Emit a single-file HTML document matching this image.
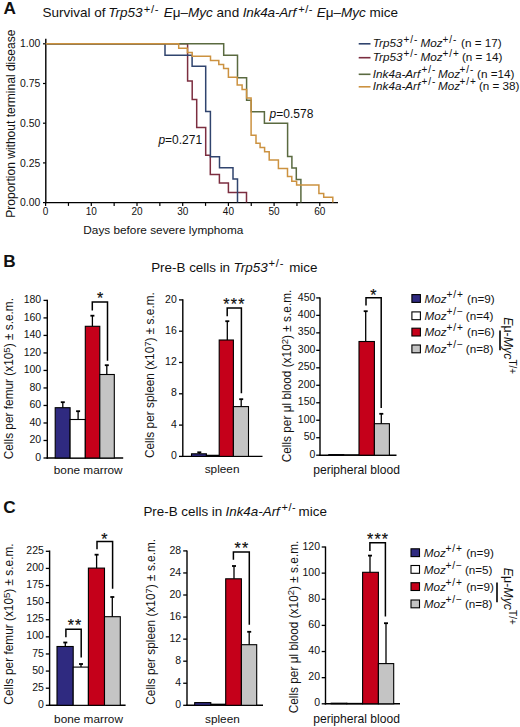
<!DOCTYPE html>
<html><head><meta charset="utf-8"><style>
html,body{margin:0;padding:0;background:#fff;}
body{width:520px;height:727px;overflow:hidden;}
svg{display:block;font-family:"Liberation Sans", sans-serif;fill:#111;}
</style></head><body>
<svg width="520" height="727" viewBox="0 0 520 727">
<g>
<text x="3.5" y="13.6" font-size="17.2" text-anchor="start" font-weight="bold">A</text>
<text y="17.3" font-size="13.5"><tspan x="42.6">Survival of </tspan><tspan x="108.3" font-style="italic">Trp53</tspan><tspan x="143.8" font-size="11.2" dy="-4.6" letter-spacing="0.7">+/-</tspan><tspan x="163.8" dy="4.6" font-style="italic">E</tspan><tspan>μ–</tspan><tspan font-style="italic">Myc</tspan><tspan> and </tspan><tspan x="242.8" font-style="italic" letter-spacing="-0.18">Ink4a-Arf</tspan><tspan x="298.2" font-size="11.2" dy="-4.6" letter-spacing="0.5">+/-</tspan><tspan x="316.7" dy="4.6" font-style="italic">E</tspan><tspan>μ–</tspan><tspan font-style="italic">Myc</tspan><tspan> mice</tspan></text>
<line x1="45.8" y1="38.8" x2="45.8" y2="203.29999999999998" stroke="#000" stroke-width="1.4"/>
<line x1="45.099999999999994" y1="202.6" x2="338" y2="202.6" stroke="#000" stroke-width="1.4"/>
<line x1="43.0" y1="43.79999999999998" x2="45.8" y2="43.79999999999998" stroke="#000" stroke-width="1.2"/>
<text x="40.3" y="47.399999999999984" font-size="10.4" text-anchor="end" >1.00</text>
<line x1="43.0" y1="83.49999999999999" x2="45.8" y2="83.49999999999999" stroke="#000" stroke-width="1.2"/>
<text x="40.3" y="87.09999999999998" font-size="10.4" text-anchor="end" >0.75</text>
<line x1="43.0" y1="123.19999999999999" x2="45.8" y2="123.19999999999999" stroke="#000" stroke-width="1.2"/>
<text x="40.3" y="126.79999999999998" font-size="10.4" text-anchor="end" >0.50</text>
<line x1="43.0" y1="162.89999999999998" x2="45.8" y2="162.89999999999998" stroke="#000" stroke-width="1.2"/>
<text x="40.3" y="166.49999999999997" font-size="10.4" text-anchor="end" >0.25</text>
<line x1="43.0" y1="202.6" x2="45.8" y2="202.6" stroke="#000" stroke-width="1.2"/>
<text x="40.3" y="206.2" font-size="10.4" text-anchor="end" >0.00</text>
<line x1="45.6" y1="202.6" x2="45.6" y2="205.9" stroke="#000" stroke-width="1.2"/>
<text x="45.6" y="215.3" font-size="10" text-anchor="middle" >0</text>
<line x1="68.45" y1="202.6" x2="68.45" y2="205.9" stroke="#000" stroke-width="1.2"/>
<line x1="91.30000000000001" y1="202.6" x2="91.30000000000001" y2="205.9" stroke="#000" stroke-width="1.2"/>
<text x="91.30000000000001" y="215.3" font-size="10" text-anchor="middle" >10</text>
<line x1="114.15" y1="202.6" x2="114.15" y2="205.9" stroke="#000" stroke-width="1.2"/>
<line x1="137.0" y1="202.6" x2="137.0" y2="205.9" stroke="#000" stroke-width="1.2"/>
<text x="137.0" y="215.3" font-size="10" text-anchor="middle" >20</text>
<line x1="159.85" y1="202.6" x2="159.85" y2="205.9" stroke="#000" stroke-width="1.2"/>
<line x1="182.70000000000002" y1="202.6" x2="182.70000000000002" y2="205.9" stroke="#000" stroke-width="1.2"/>
<text x="182.70000000000002" y="215.3" font-size="10" text-anchor="middle" >30</text>
<line x1="205.55" y1="202.6" x2="205.55" y2="205.9" stroke="#000" stroke-width="1.2"/>
<line x1="228.4" y1="202.6" x2="228.4" y2="205.9" stroke="#000" stroke-width="1.2"/>
<text x="228.4" y="215.3" font-size="10" text-anchor="middle" >40</text>
<line x1="251.25" y1="202.6" x2="251.25" y2="205.9" stroke="#000" stroke-width="1.2"/>
<line x1="274.1" y1="202.6" x2="274.1" y2="205.9" stroke="#000" stroke-width="1.2"/>
<text x="274.1" y="215.3" font-size="10" text-anchor="middle" >50</text>
<line x1="296.95000000000005" y1="202.6" x2="296.95000000000005" y2="205.9" stroke="#000" stroke-width="1.2"/>
<line x1="319.80000000000007" y1="202.6" x2="319.80000000000007" y2="205.9" stroke="#000" stroke-width="1.2"/>
<text x="319.80000000000007" y="215.3" font-size="10" text-anchor="middle" >60</text>
<text x="83.3" y="233.5" font-size="11.8" text-anchor="start" >Days before severe lymphoma</text>
<text transform="translate(14.7,123.65) rotate(-90)" font-size="12.05" text-anchor="middle">Proportion without terminal disease</text>
<path d="M 45.8 43.8 H 187.6 V 81.1 H 192.2 V 99.4 H 196.7 V 127.5 H 205.7 V 155.2 H 210.3 V 174.4 H 219.4 V 183.1 H 228.4 V 192.5 H 246.5 V 202.6" fill="none" stroke="#7c2e40" stroke-width="1.5" stroke-linejoin="miter" stroke-linecap="butt"/>
<path d="M 45.8 43.8 H 165 V 55.3 H 192.1 V 66.2 H 205.7 V 111.5 H 210.4 V 156.8 H 219.5 V 167.8 H 233 V 179 H 237.5 V 202.6" fill="none" stroke="#30446e" stroke-width="1.5" stroke-linejoin="miter" stroke-linecap="butt"/>
<path d="M 45.8 43.8 H 223.7 V 55.2 H 237.5 V 77.8 H 246.6 V 100.3 H 251.2 V 111.7 H 264.4 V 123.2 H 287.6 V 156.6 H 291.9 V 168 H 296.3 V 179.5 H 300.9 V 202.6" fill="none" stroke="#5a6a40" stroke-width="1.5" stroke-linejoin="miter" stroke-linecap="butt"/>
<path d="M 45.8 43.8 H 178.7 V 48.2 H 187.4 V 52.4 H 192.2 V 56.2 H 210.5 V 60.5 H 218.8 V 64.5 H 223.6 V 68.5 H 228.4 V 77.3 H 237.2 V 85.1 H 242.1 V 89.6 H 246.6 V 98.1 H 251.1 V 135.2 H 256 V 143.2 H 260.1 V 147.5 H 264.6 V 151.8 H 269.2 V 160.1 H 278.4 V 168.4 H 287.5 V 176.6 H 291.8 V 181.2 H 296.6 V 185.1 H 318.9 V 193.4 H 323.7 V 197.3 H 332.8 V 202.6" fill="none" stroke="#cc9240" stroke-width="1.5" stroke-linejoin="miter" stroke-linecap="butt"/>
<text x="158.4" y="143.5" font-size="12" text-anchor="start" ><tspan font-style="italic">p</tspan>=0.271</text>
<text x="269.6" y="117.6" font-size="12" text-anchor="start" ><tspan font-style="italic">p</tspan>=0.578</text>
<line x1="358.7" y1="43.8" x2="370.5" y2="43.8" stroke="#30446e" stroke-width="1.6"/>
<text y="47.4" font-size="11.7"><tspan x="372.8" font-style="italic">Trp53</tspan><tspan x="403.5" font-size="10" dy="-4.5" letter-spacing="1">+/-</tspan><tspan x="420.5" dy="4.5" font-style="italic">Moz</tspan><tspan x="442.5" font-size="10" dy="-4.5" letter-spacing="1">+/-</tspan><tspan x="461.1" dy="4.5">(n = 17)</tspan></text>
<line x1="358.7" y1="57.7" x2="370.5" y2="57.7" stroke="#7c2e40" stroke-width="1.6"/>
<text y="61.2" font-size="11.7"><tspan x="372.8" font-style="italic">Trp53</tspan><tspan x="403.5" font-size="10" dy="-4.5" letter-spacing="1">+/-</tspan><tspan x="420.5" dy="4.5" font-style="italic">Moz</tspan><tspan x="442.5" font-size="10" dy="-4.5" letter-spacing="1">+/+</tspan><tspan x="461.9" dy="4.5">(n = 14)</tspan></text>
<line x1="358.7" y1="74.3" x2="370.5" y2="74.3" stroke="#5a6a40" stroke-width="1.6"/>
<text y="77.8" font-size="11.7"><tspan x="372.8" font-style="italic">Ink4a-Arf</tspan><tspan x="421.5" font-size="10" dy="-4.5" letter-spacing="1">+/-</tspan><tspan x="438.0" dy="4.5" font-style="italic">Moz</tspan><tspan x="459.5" font-size="10" dy="-4.5" letter-spacing="1">+/-</tspan><tspan x="477.1" dy="4.5">(n =14)</tspan></text>
<line x1="358.7" y1="86.8" x2="370.5" y2="86.8" stroke="#cc9240" stroke-width="1.6"/>
<text y="89.9" font-size="11.7"><tspan x="372.8" font-style="italic">Ink4a-Arf</tspan><tspan x="421.5" font-size="10" dy="-4.5" letter-spacing="1">+/-</tspan><tspan x="438.0" dy="4.5" font-style="italic">Moz</tspan><tspan x="459.5" font-size="10" dy="-4.5" letter-spacing="1">+/+</tspan><tspan x="478.9" dy="4.5">(n = 38)</tspan></text>
</g>
<text x="3.2" y="266.6" font-size="17.2" text-anchor="start" font-weight="bold">B</text>
<text y="271.6" font-size="13.4"><tspan x="151.2">Pre-B cells in </tspan><tspan x="233.6" font-style="italic">Trp53</tspan><tspan x="268.6" font-size="11.2" dy="-4.6" letter-spacing="0.7">+/-</tspan><tspan x="289.2" dy="4.6">mice</tspan></text>
<line x1="47.3" y1="299.8" x2="47.3" y2="458.7" stroke="#000" stroke-width="1.4"/>
<line x1="46.599999999999994" y1="458.0" x2="123.2" y2="458.0" stroke="#000" stroke-width="1.4"/>
<line x1="43.5" y1="458.0" x2="47.3" y2="458.0" stroke="#000" stroke-width="1.3"/>
<text x="41.2" y="460.6" font-size="10.5" text-anchor="end" >0</text>
<line x1="43.5" y1="440.4888888888889" x2="47.3" y2="440.4888888888889" stroke="#000" stroke-width="1.3"/>
<text x="41.2" y="443.0888888888889" font-size="10.5" text-anchor="end" >20</text>
<line x1="43.5" y1="422.97777777777776" x2="47.3" y2="422.97777777777776" stroke="#000" stroke-width="1.3"/>
<text x="41.2" y="425.5777777777778" font-size="10.5" text-anchor="end" >40</text>
<line x1="43.5" y1="405.46666666666664" x2="47.3" y2="405.46666666666664" stroke="#000" stroke-width="1.3"/>
<text x="41.2" y="408.06666666666666" font-size="10.5" text-anchor="end" >60</text>
<line x1="43.5" y1="387.9555555555555" x2="47.3" y2="387.9555555555555" stroke="#000" stroke-width="1.3"/>
<text x="41.2" y="390.55555555555554" font-size="10.5" text-anchor="end" >80</text>
<line x1="43.5" y1="370.44444444444446" x2="47.3" y2="370.44444444444446" stroke="#000" stroke-width="1.3"/>
<text x="41.2" y="373.0444444444445" font-size="10.5" text-anchor="end" >100</text>
<line x1="43.5" y1="352.93333333333334" x2="47.3" y2="352.93333333333334" stroke="#000" stroke-width="1.3"/>
<text x="41.2" y="355.53333333333336" font-size="10.5" text-anchor="end" >120</text>
<line x1="43.5" y1="335.4222222222222" x2="47.3" y2="335.4222222222222" stroke="#000" stroke-width="1.3"/>
<text x="41.2" y="338.02222222222224" font-size="10.5" text-anchor="end" >140</text>
<line x1="43.5" y1="317.9111111111111" x2="47.3" y2="317.9111111111111" stroke="#000" stroke-width="1.3"/>
<text x="41.2" y="320.5111111111111" font-size="10.5" text-anchor="end" >160</text>
<line x1="43.5" y1="300.4" x2="47.3" y2="300.4" stroke="#000" stroke-width="1.3"/>
<text x="41.2" y="303.0" font-size="10.5" text-anchor="end" >180</text>
<rect x="55.2" y="407.7" width="14.90" height="50.30" fill="#2f2a80" stroke="#000" stroke-width="1.1"/>
<rect x="70.1" y="419.5" width="15.20" height="38.50" fill="#fff" stroke="#000" stroke-width="1.1"/>
<rect x="85.3" y="326.3" width="14.50" height="131.70" fill="#c5001a" stroke="#000" stroke-width="1.1"/>
<rect x="99.8" y="374.5" width="14.50" height="83.50" fill="#c4c4c4" stroke="#000" stroke-width="1.1"/>
<line x1="62.8" y1="402.2" x2="62.8" y2="407.7" stroke="#000" stroke-width="1.3"/>
<line x1="60.8" y1="402.2" x2="64.8" y2="402.2" stroke="#000" stroke-width="1.8"/>
<line x1="78.1" y1="411.2" x2="78.1" y2="419.5" stroke="#000" stroke-width="1.3"/>
<line x1="76.1" y1="411.2" x2="80.1" y2="411.2" stroke="#000" stroke-width="1.8"/>
<line x1="92.4" y1="315.7" x2="92.4" y2="326.3" stroke="#000" stroke-width="1.3"/>
<line x1="90.4" y1="315.7" x2="94.4" y2="315.7" stroke="#000" stroke-width="1.8"/>
<line x1="106.8" y1="365.2" x2="106.8" y2="374.5" stroke="#000" stroke-width="1.3"/>
<line x1="104.8" y1="365.2" x2="108.8" y2="365.2" stroke="#000" stroke-width="1.8"/>
<text x="53.8" y="473.6" font-size="11.8" text-anchor="start" >bone marrow</text>
<text transform="translate(13.3,378.65) rotate(-90)" font-size="11.85" text-anchor="middle">Cells per femur (x10<tspan font-size="9.6" dy="-3.6">5</tspan><tspan dy="3.6">) ± s.e.m.</tspan></text>
<path d="M 92.3 310.5 V 302.0 H 107.5 V 360.8" fill="none" stroke="#000" stroke-width="1.5"/>
<text x="100.0" y="304.30" font-size="16" text-anchor="middle" letter-spacing="0" stroke="#000" stroke-width="0.2">*</text>
<line x1="182.8" y1="299.3" x2="182.8" y2="457.09999999999997" stroke="#000" stroke-width="1.4"/>
<line x1="182.10000000000002" y1="456.4" x2="262.5" y2="456.4" stroke="#000" stroke-width="1.4"/>
<line x1="179.0" y1="456.4" x2="182.8" y2="456.4" stroke="#000" stroke-width="1.3"/>
<text x="176.79999999999998" y="459.0" font-size="10.5" text-anchor="end" >0</text>
<line x1="179.0" y1="425.09999999999997" x2="182.8" y2="425.09999999999997" stroke="#000" stroke-width="1.3"/>
<text x="176.79999999999998" y="427.7" font-size="10.5" text-anchor="end" >4</text>
<line x1="179.0" y1="393.79999999999995" x2="182.8" y2="393.79999999999995" stroke="#000" stroke-width="1.3"/>
<text x="176.79999999999998" y="396.4" font-size="10.5" text-anchor="end" >8</text>
<line x1="179.0" y1="362.5" x2="182.8" y2="362.5" stroke="#000" stroke-width="1.3"/>
<text x="176.79999999999998" y="365.1" font-size="10.5" text-anchor="end" >12</text>
<line x1="179.0" y1="331.2" x2="182.8" y2="331.2" stroke="#000" stroke-width="1.3"/>
<text x="176.79999999999998" y="333.8" font-size="10.5" text-anchor="end" >16</text>
<line x1="179.0" y1="299.9" x2="182.8" y2="299.9" stroke="#000" stroke-width="1.3"/>
<text x="176.79999999999998" y="302.5" font-size="10.5" text-anchor="end" >20</text>
<rect x="191.5" y="453.8" width="14.90" height="2.60" fill="#2f2a80" stroke="#000" stroke-width="1.1"/>
<rect x="206.4" y="455.3" width="12.80" height="1.10" fill="#fff" stroke="#000" stroke-width="1.1"/>
<rect x="219.2" y="340.0" width="14.20" height="116.40" fill="#c5001a" stroke="#000" stroke-width="1.1"/>
<rect x="233.4" y="406.6" width="15.10" height="49.80" fill="#c4c4c4" stroke="#000" stroke-width="1.1"/>
<line x1="199.3" y1="452.3" x2="199.3" y2="453.8" stroke="#000" stroke-width="1.3"/>
<line x1="197.3" y1="452.3" x2="201.3" y2="452.3" stroke="#000" stroke-width="1.8"/>
<line x1="227.3" y1="321.2" x2="227.3" y2="340.0" stroke="#000" stroke-width="1.3"/>
<line x1="225.3" y1="321.2" x2="229.3" y2="321.2" stroke="#000" stroke-width="1.8"/>
<line x1="241.2" y1="399.2" x2="241.2" y2="406.6" stroke="#000" stroke-width="1.3"/>
<line x1="239.2" y1="399.2" x2="243.2" y2="399.2" stroke="#000" stroke-width="1.8"/>
<text x="204.70000000000002" y="473.2" font-size="11.8" text-anchor="start" >spleen</text>
<text transform="translate(154.4,375.1) rotate(-90)" font-size="11.85" text-anchor="middle">Cells per spleen (x10<tspan font-size="9.6" dy="-3.6">7</tspan><tspan dy="3.6">) ± s.e.m.</tspan></text>
<path d="M 227.2 316.2 V 308.1 H 241.4 V 393.3" fill="none" stroke="#000" stroke-width="1.5"/>
<text x="234.5" y="309.90" font-size="16" text-anchor="middle" letter-spacing="1.2" stroke="#000" stroke-width="0.2">***</text>
<line x1="320.0" y1="297.4" x2="320.0" y2="455.9" stroke="#000" stroke-width="1.4"/>
<line x1="319.3" y1="455.2" x2="396.5" y2="455.2" stroke="#000" stroke-width="1.4"/>
<line x1="316.2" y1="455.2" x2="320.0" y2="455.2" stroke="#000" stroke-width="1.3"/>
<text x="315.40000000000003" y="457.8" font-size="10.5" text-anchor="end" >0</text>
<line x1="316.2" y1="437.72222222222223" x2="320.0" y2="437.72222222222223" stroke="#000" stroke-width="1.3"/>
<text x="315.40000000000003" y="440.32222222222225" font-size="10.5" text-anchor="end" >50</text>
<line x1="316.2" y1="420.2444444444444" x2="320.0" y2="420.2444444444444" stroke="#000" stroke-width="1.3"/>
<text x="315.40000000000003" y="422.84444444444443" font-size="10.5" text-anchor="end" >100</text>
<line x1="316.2" y1="402.76666666666665" x2="320.0" y2="402.76666666666665" stroke="#000" stroke-width="1.3"/>
<text x="315.40000000000003" y="405.3666666666667" font-size="10.5" text-anchor="end" >150</text>
<line x1="316.2" y1="385.2888888888889" x2="320.0" y2="385.2888888888889" stroke="#000" stroke-width="1.3"/>
<text x="315.40000000000003" y="387.8888888888889" font-size="10.5" text-anchor="end" >200</text>
<line x1="316.2" y1="367.81111111111113" x2="320.0" y2="367.81111111111113" stroke="#000" stroke-width="1.3"/>
<text x="315.40000000000003" y="370.41111111111115" font-size="10.5" text-anchor="end" >250</text>
<line x1="316.2" y1="350.3333333333333" x2="320.0" y2="350.3333333333333" stroke="#000" stroke-width="1.3"/>
<text x="315.40000000000003" y="352.93333333333334" font-size="10.5" text-anchor="end" >300</text>
<line x1="316.2" y1="332.8555555555555" x2="320.0" y2="332.8555555555555" stroke="#000" stroke-width="1.3"/>
<text x="315.40000000000003" y="335.4555555555555" font-size="10.5" text-anchor="end" >350</text>
<line x1="316.2" y1="315.37777777777774" x2="320.0" y2="315.37777777777774" stroke="#000" stroke-width="1.3"/>
<text x="315.40000000000003" y="317.97777777777776" font-size="10.5" text-anchor="end" >400</text>
<line x1="316.2" y1="297.9" x2="320.0" y2="297.9" stroke="#000" stroke-width="1.3"/>
<text x="315.40000000000003" y="300.5" font-size="10.5" text-anchor="end" >450</text>
<rect x="328.8" y="454.6" width="15.00" height="0.60" fill="#2f2a80" stroke="#000" stroke-width="1.1"/>
<rect x="343.8" y="454.9" width="15.20" height="0.30" fill="#fff" stroke="#000" stroke-width="1.1"/>
<rect x="359.0" y="341.5" width="15.40" height="113.70" fill="#c5001a" stroke="#000" stroke-width="1.1"/>
<rect x="374.4" y="423.7" width="15.00" height="31.50" fill="#c4c4c4" stroke="#000" stroke-width="1.1"/>
<line x1="365.7" y1="311.2" x2="365.7" y2="341.5" stroke="#000" stroke-width="1.3"/>
<line x1="363.7" y1="311.2" x2="367.7" y2="311.2" stroke="#000" stroke-width="1.8"/>
<line x1="381.3" y1="413.8" x2="381.3" y2="423.7" stroke="#000" stroke-width="1.3"/>
<line x1="379.3" y1="413.8" x2="383.3" y2="413.8" stroke="#000" stroke-width="1.8"/>
<text x="313.2" y="473.6" font-size="12.1" text-anchor="start" >peripheral blood</text>
<text transform="translate(291.3,376.0) rotate(-90)" font-size="11.85" text-anchor="middle">Cells per μl blood (x10<tspan font-size="9.6" dy="-3.6">2</tspan><tspan dy="3.6">) ± s.e.m.</tspan></text>
<path d="M 366.0 305.6 V 297.8 H 381.2 V 408.0" fill="none" stroke="#000" stroke-width="1.5"/>
<text x="373.4" y="301.20" font-size="16" text-anchor="middle" letter-spacing="0" stroke="#000" stroke-width="0.2">*</text>
<rect x="411.90" y="294.60" width="8.5" height="7.8" fill="#2f2a80" stroke="#000" stroke-width="1.1"/>
<text y="302.60" font-size="11.7"><tspan x="424.60" font-style="italic">Moz</tspan><tspan x="446.50" font-size="10.2" dy="-5" letter-spacing="0.8">+/+</tspan><tspan x="467.10" dy="5">(n=9)</tspan></text>
<rect x="411.90" y="311.90" width="8.5" height="7.8" fill="#fff" stroke="#000" stroke-width="1.1"/>
<text y="319.90" font-size="11.7"><tspan x="424.60" font-style="italic">Moz</tspan><tspan x="446.50" font-size="10.2" dy="-5" letter-spacing="0.8">+/−</tspan><tspan x="465.80" dy="5">(n=4)</tspan></text>
<rect x="411.90" y="328.20" width="8.5" height="7.8" fill="#c5001a" stroke="#000" stroke-width="1.1"/>
<text y="336.20" font-size="11.7"><tspan x="424.60" font-style="italic">Moz</tspan><tspan x="446.50" font-size="10.2" dy="-5" letter-spacing="0.8">+/+</tspan><tspan x="467.10" dy="5">(n=6)</tspan></text>
<rect x="411.90" y="345.00" width="8.5" height="7.8" fill="#c4c4c4" stroke="#000" stroke-width="1.1"/>
<text y="353.00" font-size="11.7"><tspan x="424.60" font-style="italic">Moz</tspan><tspan x="446.50" font-size="10.2" dy="-5" letter-spacing="0.8">+/−</tspan><tspan x="465.80" dy="5">(n=8)</tspan></text>
<line x1="500.0" y1="330.6" x2="500.0" y2="350.2" stroke="#000" stroke-width="1.6"/>
<text transform="translate(503.6,317.2) rotate(90)" font-size="12.4"><tspan font-style="italic">E</tspan>μ-<tspan font-style="italic">Myc</tspan><tspan font-size="10" dy="-5" dx="0">T/+</tspan></text>
<text x="3.3" y="512.5" font-size="17.2" text-anchor="start" font-weight="bold">C</text>
<text y="515.8" font-size="13.4"><tspan x="143.4">Pre-B cells in </tspan><tspan x="225.5" font-style="italic">Ink4a-Arf</tspan><tspan x="281.6" font-size="11" dy="-4.6" letter-spacing="0.5">+/-</tspan><tspan x="298.6" dy="4.6">mice</tspan></text>
<line x1="49.6" y1="550.5" x2="49.6" y2="706.0" stroke="#000" stroke-width="1.4"/>
<line x1="48.9" y1="705.3" x2="125.6" y2="705.3" stroke="#000" stroke-width="1.4"/>
<line x1="45.800000000000004" y1="705.3" x2="49.6" y2="705.3" stroke="#000" stroke-width="1.3"/>
<text x="43.9" y="707.9" font-size="10.5" text-anchor="end" >0</text>
<line x1="45.800000000000004" y1="688.1888888888889" x2="49.6" y2="688.1888888888889" stroke="#000" stroke-width="1.3"/>
<text x="43.9" y="690.7888888888889" font-size="10.5" text-anchor="end" >25</text>
<line x1="45.800000000000004" y1="671.0777777777778" x2="49.6" y2="671.0777777777778" stroke="#000" stroke-width="1.3"/>
<text x="43.9" y="673.6777777777778" font-size="10.5" text-anchor="end" >50</text>
<line x1="45.800000000000004" y1="653.9666666666666" x2="49.6" y2="653.9666666666666" stroke="#000" stroke-width="1.3"/>
<text x="43.9" y="656.5666666666666" font-size="10.5" text-anchor="end" >75</text>
<line x1="45.800000000000004" y1="636.8555555555555" x2="49.6" y2="636.8555555555555" stroke="#000" stroke-width="1.3"/>
<text x="43.9" y="639.4555555555555" font-size="10.5" text-anchor="end" >100</text>
<line x1="45.800000000000004" y1="619.7444444444444" x2="49.6" y2="619.7444444444444" stroke="#000" stroke-width="1.3"/>
<text x="43.9" y="622.3444444444444" font-size="10.5" text-anchor="end" >125</text>
<line x1="45.800000000000004" y1="602.6333333333333" x2="49.6" y2="602.6333333333333" stroke="#000" stroke-width="1.3"/>
<text x="43.9" y="605.2333333333333" font-size="10.5" text-anchor="end" >150</text>
<line x1="45.800000000000004" y1="585.5222222222221" x2="49.6" y2="585.5222222222221" stroke="#000" stroke-width="1.3"/>
<text x="43.9" y="588.1222222222221" font-size="10.5" text-anchor="end" >175</text>
<line x1="45.800000000000004" y1="568.411111111111" x2="49.6" y2="568.411111111111" stroke="#000" stroke-width="1.3"/>
<text x="43.9" y="571.0111111111111" font-size="10.5" text-anchor="end" >200</text>
<line x1="45.800000000000004" y1="551.3" x2="49.6" y2="551.3" stroke="#000" stroke-width="1.3"/>
<text x="43.9" y="553.9" font-size="10.5" text-anchor="end" >225</text>
<rect x="57.0" y="646.5" width="16.20" height="58.80" fill="#2f2a80" stroke="#000" stroke-width="1.1"/>
<rect x="73.2" y="667.1" width="15.20" height="38.20" fill="#fff" stroke="#000" stroke-width="1.1"/>
<rect x="88.4" y="568.1" width="16.10" height="137.20" fill="#c5001a" stroke="#000" stroke-width="1.1"/>
<rect x="104.5" y="616.7" width="15.80" height="88.60" fill="#c4c4c4" stroke="#000" stroke-width="1.1"/>
<line x1="65.3" y1="642.5" x2="65.3" y2="646.5" stroke="#000" stroke-width="1.3"/>
<line x1="63.3" y1="642.5" x2="67.3" y2="642.5" stroke="#000" stroke-width="1.8"/>
<line x1="81.0" y1="664.0" x2="81.0" y2="667.1" stroke="#000" stroke-width="1.3"/>
<line x1="79.0" y1="664.0" x2="83.0" y2="664.0" stroke="#000" stroke-width="1.8"/>
<line x1="96.6" y1="554.7" x2="96.6" y2="568.1" stroke="#000" stroke-width="1.3"/>
<line x1="94.6" y1="554.7" x2="98.6" y2="554.7" stroke="#000" stroke-width="1.8"/>
<line x1="112.3" y1="597.0" x2="112.3" y2="616.7" stroke="#000" stroke-width="1.3"/>
<line x1="110.3" y1="597.0" x2="114.3" y2="597.0" stroke="#000" stroke-width="1.8"/>
<text x="54.1" y="723.3" font-size="11.8" text-anchor="start" >bone marrow</text>
<text transform="translate(13.1,624.0) rotate(-90)" font-size="11.85" text-anchor="middle">Cells per femur (x10<tspan font-size="9.6" dy="-3.6">5</tspan><tspan dy="3.6">) ± s.e.m.</tspan></text>
<path d="M 97.0 549.3 V 541.4 H 112.6 V 588.8" fill="none" stroke="#000" stroke-width="1.5"/>
<text x="104.25" y="545.00" font-size="16" text-anchor="middle" letter-spacing="0" stroke="#000" stroke-width="0.2">*</text>
<path d="M 65.9 637.2 V 629.2 H 81.2 V 657.6" fill="none" stroke="#000" stroke-width="1.5"/>
<text x="75.1" y="630.80" font-size="16" text-anchor="middle" letter-spacing="1.2" stroke="#000" stroke-width="0.2">**</text>
<line x1="187.0" y1="550.4" x2="187.0" y2="706.0" stroke="#000" stroke-width="1.4"/>
<line x1="186.3" y1="705.3" x2="263.0" y2="705.3" stroke="#000" stroke-width="1.4"/>
<line x1="183.2" y1="705.3" x2="187.0" y2="705.3" stroke="#000" stroke-width="1.3"/>
<text x="181.2" y="707.9" font-size="10.5" text-anchor="end" >0</text>
<line x1="183.2" y1="683.2428571428571" x2="187.0" y2="683.2428571428571" stroke="#000" stroke-width="1.3"/>
<text x="181.2" y="685.8428571428572" font-size="10.5" text-anchor="end" >4</text>
<line x1="183.2" y1="661.1857142857142" x2="187.0" y2="661.1857142857142" stroke="#000" stroke-width="1.3"/>
<text x="181.2" y="663.7857142857142" font-size="10.5" text-anchor="end" >8</text>
<line x1="183.2" y1="639.1285714285714" x2="187.0" y2="639.1285714285714" stroke="#000" stroke-width="1.3"/>
<text x="181.2" y="641.7285714285714" font-size="10.5" text-anchor="end" >12</text>
<line x1="183.2" y1="617.0714285714286" x2="187.0" y2="617.0714285714286" stroke="#000" stroke-width="1.3"/>
<text x="181.2" y="619.6714285714286" font-size="10.5" text-anchor="end" >16</text>
<line x1="183.2" y1="595.0142857142857" x2="187.0" y2="595.0142857142857" stroke="#000" stroke-width="1.3"/>
<text x="181.2" y="597.6142857142858" font-size="10.5" text-anchor="end" >20</text>
<line x1="183.2" y1="572.9571428571428" x2="187.0" y2="572.9571428571428" stroke="#000" stroke-width="1.3"/>
<text x="181.2" y="575.5571428571428" font-size="10.5" text-anchor="end" >24</text>
<line x1="183.2" y1="550.9" x2="187.0" y2="550.9" stroke="#000" stroke-width="1.3"/>
<text x="181.2" y="553.5" font-size="10.5" text-anchor="end" >28</text>
<rect x="194.7" y="702.6" width="16.10" height="2.70" fill="#2f2a80" stroke="#000" stroke-width="1.1"/>
<rect x="210.8" y="704.2" width="14.90" height="1.10" fill="#fff" stroke="#000" stroke-width="1.1"/>
<rect x="225.7" y="578.8" width="15.70" height="126.50" fill="#c5001a" stroke="#000" stroke-width="1.1"/>
<rect x="241.4" y="644.7" width="15.30" height="60.60" fill="#c4c4c4" stroke="#000" stroke-width="1.1"/>
<line x1="234.0" y1="566.0" x2="234.0" y2="578.8" stroke="#000" stroke-width="1.3"/>
<line x1="232.0" y1="566.0" x2="236.0" y2="566.0" stroke="#000" stroke-width="1.8"/>
<line x1="249.2" y1="631.8" x2="249.2" y2="644.7" stroke="#000" stroke-width="1.3"/>
<line x1="247.2" y1="631.8" x2="251.2" y2="631.8" stroke="#000" stroke-width="1.8"/>
<text x="205.0" y="723.1" font-size="11.8" text-anchor="start" >spleen</text>
<text transform="translate(155.2,621.8) rotate(-90)" font-size="11.85" text-anchor="middle">Cells per spleen (x10<tspan font-size="9.6" dy="-3.6">7</tspan><tspan dy="3.6">) ± s.e.m.</tspan></text>
<path d="M 233.4 559.7 V 551.9 H 249.3 V 624.8" fill="none" stroke="#000" stroke-width="1.5"/>
<text x="242.0" y="553.75" font-size="16" text-anchor="middle" letter-spacing="1.2" stroke="#000" stroke-width="0.2">**</text>
<line x1="325.5" y1="546.5" x2="325.5" y2="704.5" stroke="#000" stroke-width="1.4"/>
<line x1="324.8" y1="703.8" x2="400.0" y2="703.8" stroke="#000" stroke-width="1.4"/>
<line x1="321.7" y1="703.8" x2="325.5" y2="703.8" stroke="#000" stroke-width="1.3"/>
<text x="320.0" y="706.4" font-size="10.5" text-anchor="end" >0</text>
<line x1="321.7" y1="677.6666666666666" x2="325.5" y2="677.6666666666666" stroke="#000" stroke-width="1.3"/>
<text x="320.0" y="680.2666666666667" font-size="10.5" text-anchor="end" >20</text>
<line x1="321.7" y1="651.5333333333333" x2="325.5" y2="651.5333333333333" stroke="#000" stroke-width="1.3"/>
<text x="320.0" y="654.1333333333333" font-size="10.5" text-anchor="end" >40</text>
<line x1="321.7" y1="625.4" x2="325.5" y2="625.4" stroke="#000" stroke-width="1.3"/>
<text x="320.0" y="628.0" font-size="10.5" text-anchor="end" >60</text>
<line x1="321.7" y1="599.2666666666667" x2="325.5" y2="599.2666666666667" stroke="#000" stroke-width="1.3"/>
<text x="320.0" y="601.8666666666667" font-size="10.5" text-anchor="end" >80</text>
<line x1="321.7" y1="573.1333333333333" x2="325.5" y2="573.1333333333333" stroke="#000" stroke-width="1.3"/>
<text x="320.0" y="575.7333333333333" font-size="10.5" text-anchor="end" >100</text>
<line x1="321.7" y1="547.0" x2="325.5" y2="547.0" stroke="#000" stroke-width="1.3"/>
<text x="320.0" y="549.6" font-size="10.5" text-anchor="end" >120</text>
<rect x="331.2" y="703.2" width="15.60" height="0.60" fill="#2f2a80" stroke="#000" stroke-width="1.1"/>
<rect x="346.8" y="703.4" width="15.80" height="0.40" fill="#fff" stroke="#000" stroke-width="1.1"/>
<rect x="362.6" y="572.3" width="15.80" height="131.50" fill="#c5001a" stroke="#000" stroke-width="1.1"/>
<rect x="378.4" y="663.6" width="15.30" height="40.20" fill="#c4c4c4" stroke="#000" stroke-width="1.1"/>
<line x1="370.0" y1="555.6" x2="370.0" y2="572.3" stroke="#000" stroke-width="1.3"/>
<line x1="368.0" y1="555.6" x2="372.0" y2="555.6" stroke="#000" stroke-width="1.8"/>
<line x1="386.0" y1="623.2" x2="386.0" y2="663.6" stroke="#000" stroke-width="1.3"/>
<line x1="384.0" y1="623.2" x2="388.0" y2="623.2" stroke="#000" stroke-width="1.8"/>
<text x="313.2" y="723.3" font-size="12.1" text-anchor="start" >peripheral blood</text>
<text transform="translate(297.5,627.0) rotate(-90)" font-size="11.85" text-anchor="middle">Cells per μl blood (x10<tspan font-size="9.6" dy="-3.6">2</tspan><tspan dy="3.6">) ± s.e.m.</tspan></text>
<path d="M 369.9 551.1 V 542.8 H 385.4 V 616.4" fill="none" stroke="#000" stroke-width="1.5"/>
<text x="378.1" y="545.30" font-size="16" text-anchor="middle" letter-spacing="1.2" stroke="#000" stroke-width="0.2">***</text>
<rect x="411.00" y="548.80" width="8.5" height="7.8" fill="#2f2a80" stroke="#000" stroke-width="1.1"/>
<text y="556.80" font-size="11.7"><tspan x="423.70" font-style="italic">Moz</tspan><tspan x="445.60" font-size="10.2" dy="-5" letter-spacing="0.8">+/+</tspan><tspan x="466.20" dy="5">(n=9)</tspan></text>
<rect x="411.00" y="565.50" width="8.5" height="7.8" fill="#fff" stroke="#000" stroke-width="1.1"/>
<text y="573.50" font-size="11.7"><tspan x="423.70" font-style="italic">Moz</tspan><tspan x="445.60" font-size="10.2" dy="-5" letter-spacing="0.8">+/−</tspan><tspan x="464.90" dy="5">(n=5)</tspan></text>
<rect x="411.00" y="582.70" width="8.5" height="7.8" fill="#c5001a" stroke="#000" stroke-width="1.1"/>
<text y="590.70" font-size="11.7"><tspan x="423.70" font-style="italic">Moz</tspan><tspan x="445.60" font-size="10.2" dy="-5" letter-spacing="0.8">+/+</tspan><tspan x="466.20" dy="5">(n=9)</tspan></text>
<rect x="411.00" y="600.00" width="8.5" height="7.8" fill="#c4c4c4" stroke="#000" stroke-width="1.1"/>
<text y="608.00" font-size="11.7"><tspan x="423.70" font-style="italic">Moz</tspan><tspan x="445.60" font-size="10.2" dy="-5" letter-spacing="0.8">+/−</tspan><tspan x="464.90" dy="5">(n=8)</tspan></text>
<line x1="497.0" y1="582.5" x2="497.0" y2="602.3" stroke="#000" stroke-width="1.6"/>
<text transform="translate(503.6,567.8) rotate(90)" font-size="12.4"><tspan font-style="italic">E</tspan>μ-<tspan font-style="italic">Myc</tspan><tspan font-size="10" dy="-5" dx="0">T/+</tspan></text>
</svg>
</body></html>
